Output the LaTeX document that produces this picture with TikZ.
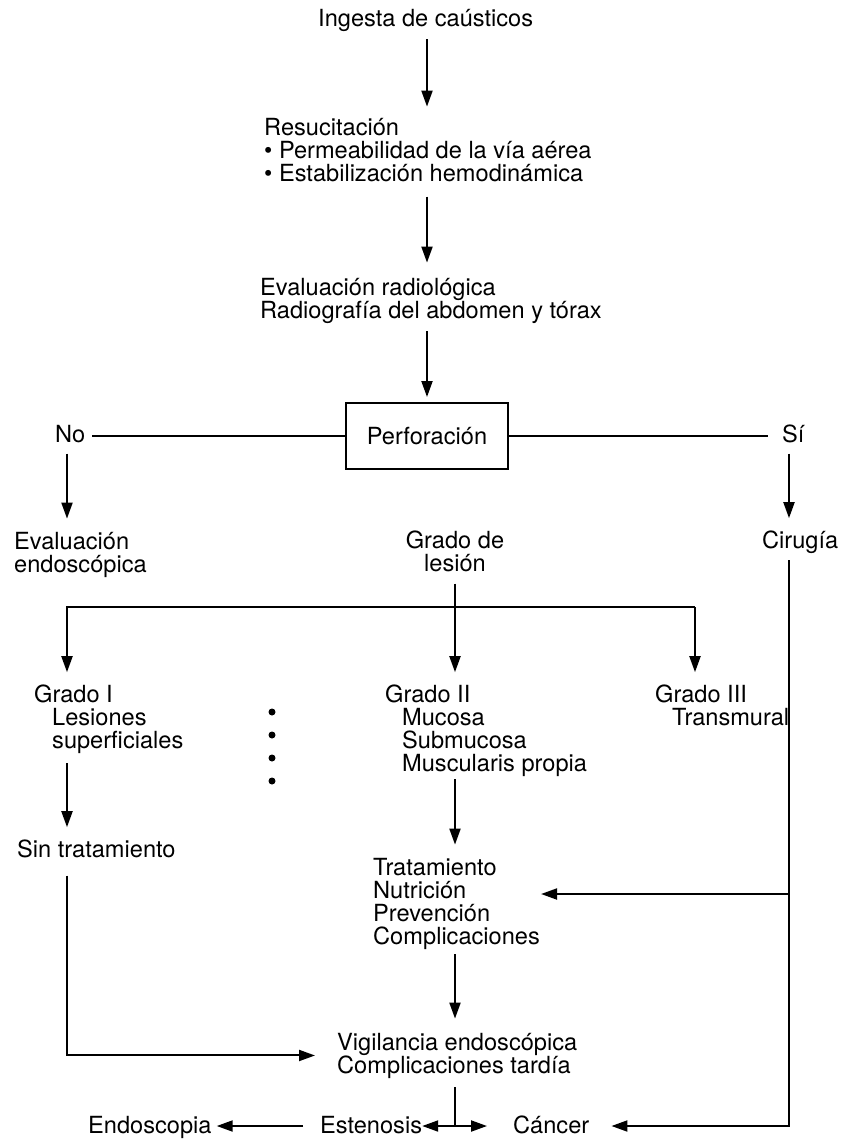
\documentclass[tikz,border=0pt]{standalone}
\usepackage{fontspec}
\setmainfont{TeX Gyre Heros}
\usetikzlibrary{arrows.meta,calc}

\begin{document}
\begin{tikzpicture}[x=1pt,y=-1pt,
  every node/.style={font=\fontsize{23.6}{23}\selectfont},
  txt/.style={anchor=base west,inner sep=0pt,align=left},
  box/.style={draw,line width=2pt,minimum width=162pt,minimum height=66pt,inner sep=0pt},
  line/.style={line width=2pt},
  arrow/.style={line,-{Triangle[length=16pt,width=11pt]}},
  dblarrow/.style={line,{Triangle[length=16pt,width=11pt]}-{Triangle[length=16pt,width=11pt]}}]
\useasboundingbox (0,0) rectangle (841,1141);

% top column (multi-line nodes sit on their last baseline)
\node[txt] (ingesta) at (318,26) {Ingesta de caústicos};
\node[txt] (resuc) at (264,181) {Resucitación\\\textbullet\ Permeabilidad de la vía aérea\\\textbullet\ Estabilización hemodinámica};
\node[txt] (radio) at (260,318) {Evaluación radiológica\\Radiografía del abdomen y tórax};
\node[box] (perf) at (427,436) {Perforación};
\node[txt] (no) at (55,442) {No};
\node[txt] (si) at (782,442) {Sí};

% second level
\node[txt] (evalendo) at (14,572) {Evaluación\\endoscópica};
\node[anchor=base,inner sep=0pt,align=center] (grado) at (455,571) {Grado de\\lesión};
\node[txt] (cirugia) at (762,548) {Cirugía};
\node[txt] (g1) at (34,748) {Grado I\\\hspace*{18pt}Lesiones\\\hspace*{18pt}superficiales};
\node[txt] (g2) at (385,771) {Grado II\\\hspace*{17pt}Mucosa\\\hspace*{17pt}Submucosa\\\hspace*{17pt}Muscularis propia};
\node[txt] (g3) at (655,725) {Grado III\\\hspace*{17pt}Transmural};
\node[txt] (sintrat) at (17,857) {Sin tratamiento};
\node[txt] (trat) at (373,944) {Tratamiento\\Nutrición\\Prevención\\Complicaciones};
\node[txt] (vigil) at (337,1073) {Vigilancia endoscópica\\Complicaciones tardía};
\node[txt] (endosc) at (88,1133) {Endoscopia};
\node[txt] (esten) at (320,1133) {Estenosis};
\node[txt] (cancer) at (513,1133) {Cáncer};

\coordinate (bl) at (67,607);
\coordinate (br) at (695,607);
\coordinate (tr) at (789,894);
\coordinate (sur) at (789,1126);

\foreach \y in {712,735,758,781}
  \fill (272,\y) circle (3.5pt);

% connectors
\draw[arrow,shorten <=8pt,shorten >=11pt] (ingesta.south -| perf) -- (resuc.north -| perf);
\draw[arrow,shorten <=15pt,shorten >=15pt] (resuc.south -| perf) -- (radio.north -| perf);
\draw[arrow,shorten <=8pt,shorten >=5pt] (radio.south -| perf) -- (perf);
\draw[line,shorten >=6pt] (perf.west) -- (perf.west -| no.east);
\draw[line,shorten >=14pt] (perf.east) -- (perf.east -| si.west);
\draw[arrow,shorten <=11pt,shorten >=13pt] (no.south -| bl) -- (evalendo.north -| bl);
\draw[arrow,shorten <=11pt,shorten >=12pt] (si.south -| sur) -- (cirugia.north -| sur);
\draw[arrow,shorten <=12pt,shorten >=12pt] (grado.south) -- (g2.north -| grado.south);
\draw[arrow,shorten >=12pt] (br) -- (bl) -- (bl |- g1.north);
\draw[arrow,shorten >=12pt] (br) -- (br |- g3.north);
\draw[arrow,shorten <=10pt,shorten >=12pt] (g1.south -| bl) -- (sintrat.north -| bl);
\draw[arrow,shorten <=3pt,shorten >=13pt] (g2.south -| grado.south) -- (trat.north -| grado.south);
\draw[arrow,shorten <=5pt,shorten >=14pt] (trat.south -| grado.south) -- (vigil.north -| grado.south);
\draw[arrow,shorten <=18pt,shorten >=22pt] (sintrat.south -| bl) |- (vigil.west);
\draw[arrow,shorten <=7pt,shorten >=22pt] (cirugia.south -| sur) -- (sur) -- (sur -| cancer.east);
\draw[arrow,shorten >=1pt] (tr) -- (tr -| trat.east);
\draw[line,shorten <=9pt] (vigil.south -| grado.south) -- (sur -| grado.south);
\draw[dblarrow,shorten >=26pt] (esten.east |- sur) -- (cancer.west |- sur);
\draw[arrow,shorten <=17pt,shorten >=5pt] (esten.west |- sur) -- (endosc.east |- sur);
\end{tikzpicture}
\end{document}
